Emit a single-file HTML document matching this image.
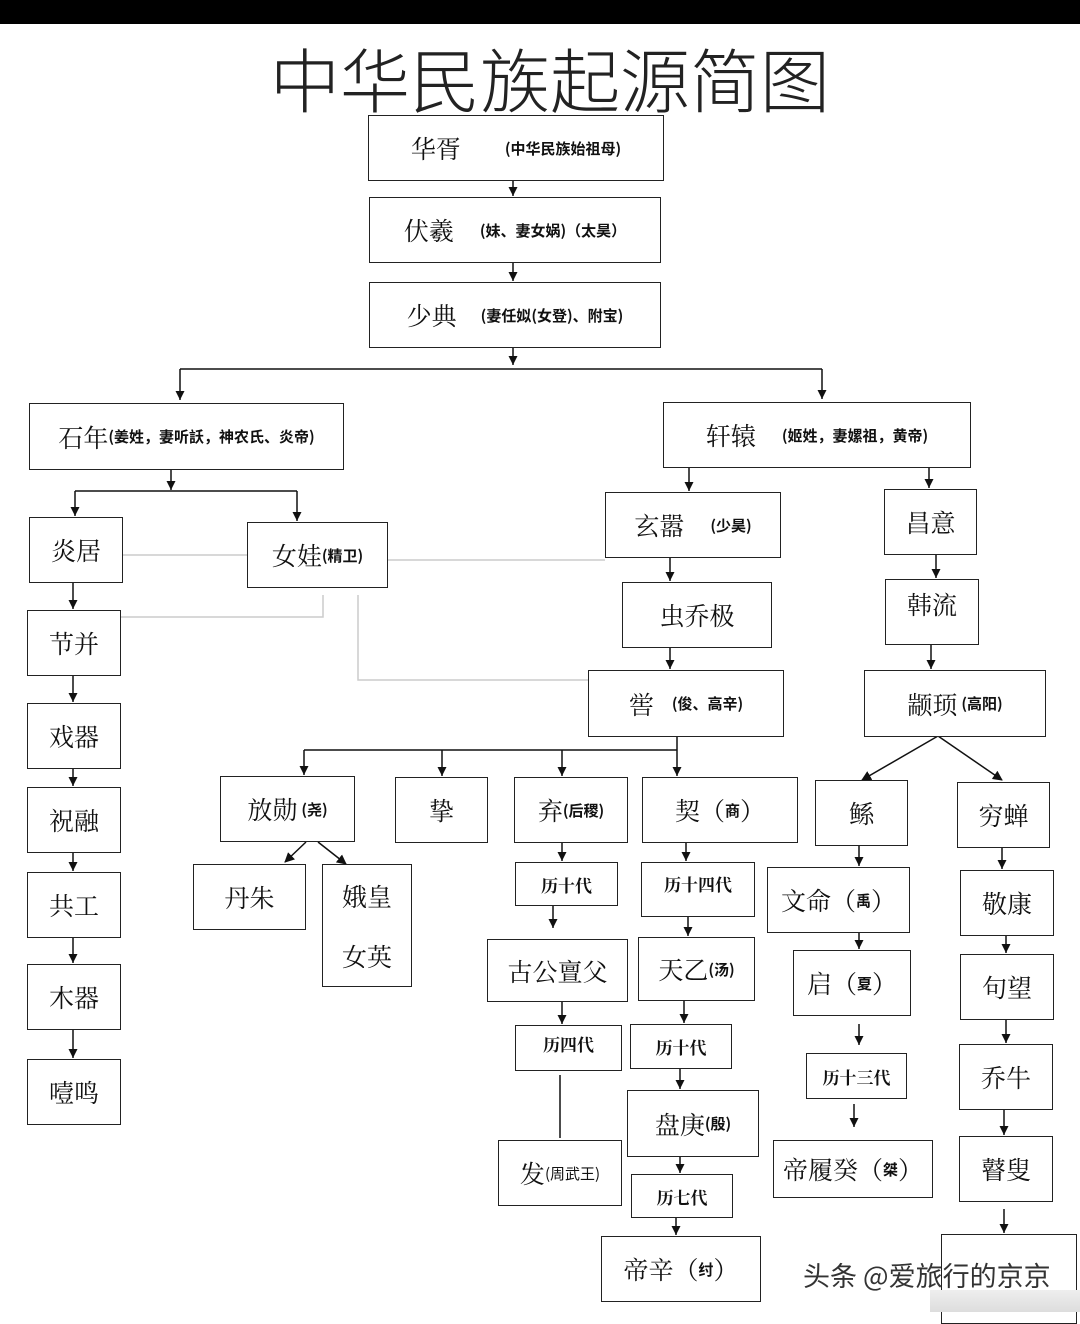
<!DOCTYPE html>
<html><head><meta charset="utf-8"><style>
body{margin:0;width:1080px;height:1312px;background:#fff;position:relative;overflow:hidden;font-family:"Liberation Serif","Noto Serif CJK SC",serif;color:#111}
.bar{position:absolute;left:0;top:0;width:1080px;height:24px;background:#000}
.t{position:absolute;left:240px;top:30px;width:620px;text-align:center;font-family:"Noto Sans CJK SC",sans-serif;font-size:70px;font-weight:300;line-height:96px;color:#222;letter-spacing:0px}
.b{position:absolute;border:1.5px solid #222;box-sizing:border-box;display:flex;align-items:center;justify-content:center;font-size:25px;white-space:nowrap;background:#fff}
.b small{font-family:"Noto Sans CJK SC",sans-serif;font-weight:700;font-size:15px;margin-left:4px}
.s{font-size:17px;font-family:"Noto Serif CJK SC",serif;font-weight:700}
svg{position:absolute;left:0;top:0}
.wm{position:absolute;left:803px;top:1255px;font-family:"Noto Sans CJK SC",sans-serif;font-size:27px;color:#333;z-index:3}
.fade{position:absolute;left:930px;top:1290px;width:150px;height:22px;background:linear-gradient(#eee,#ddd);z-index:2}
</style></head><body>
<div class="bar"></div>
<div class="t">中华民族起源简图</div>
<svg width="1080" height="1312">
<defs><marker id="a" markerWidth="9" markerHeight="9" refX="9" refY="4.5" orient="auto" markerUnits="userSpaceOnUse"><path d="M0,0 L9,4.5 L0,9z" fill="#111"/></marker>
<marker id="d" markerWidth="10" markerHeight="10" refX="9" refY="5" orient="auto" markerUnits="userSpaceOnUse"><path d="M0,0 L10,5 L0,10z" fill="#111"/></marker></defs>
<g stroke="#ccc" stroke-width="1.5" fill="none">
<path d="M122,555 H247"/><path d="M387,560 H605"/><path d="M120,617 H323 V595"/><path d="M358,595 V680 H588"/>
</g>
<g stroke="#111" stroke-width="1.5" fill="none" marker-end="url(#a)">
<path d="M513,180 V196"/><path d="M513,262 V281"/><path d="M513,347 V365"/>
<path d="M180,369 V400"/><path d="M822,369 V399"/>
<path d="M171,469 V490"/><path d="M75,491 V516"/><path d="M297,491 V521"/>
<path d="M73,583 V609"/><path d="M73,676 V702"/><path d="M73,768 V786"/><path d="M73,852 V871"/><path d="M73,937 V963"/><path d="M73,1029 V1058"/>
<path d="M689,467 V491"/><path d="M929,467 V488"/>
<path d="M670,557 V581"/><path d="M936,554 V578"/>
<path d="M670,647 V669"/><path d="M931,644 V669"/>
<path d="M304,750 V775"/><path d="M442,750 V776"/><path d="M562,750 V776"/><path d="M677,750 V776"/>
<path d="M562,842 V861"/><path d="M553,905 V928"/><path d="M562,1001 V1024"/>
<path d="M686,842 V861"/><path d="M688,916 V936"/><path d="M684,1000 V1023"/><path d="M680,1068 V1089"/><path d="M680,1156 V1173"/><path d="M676,1217 V1235"/>
<path d="M859,845 V866"/><path d="M859,932 V949"/><path d="M859,1024 V1045"/><path d="M854,1104 V1127"/>
<path d="M1002,847 V869"/><path d="M1006,935 V953"/><path d="M1006,1019 V1043"/><path d="M1004,1109 V1135"/><path d="M1004,1209 V1233"/>
</g>
<g stroke="#111" stroke-width="1.5" fill="none">
<path d="M180,369 H822"/><path d="M75,491 H297"/><path d="M304,750 H677"/><path d="M677,736 V750"/>
<path d="M560,1075 V1138"/>
</g>
<g stroke="#111" stroke-width="1.5" fill="none" marker-end="url(#d)">
<path d="M938,736 L862,780"/><path d="M938,736 L1002,780"/>
<path d="M306,842 L285,862"/><path d="M318,842 L346,864"/>
</g>
</svg>
<div class="b" style="left:368px;top:115px;width:296px;height:66px">华胥<span style="width:40px"></span><small>(中华民族始祖母)</small></div>
<div class="b" style="left:369px;top:197px;width:292px;height:66px">伏羲<span style="width:22px"></span><small>(妹、妻女娲)（太昊）</small></div>
<div class="b" style="left:369px;top:282px;width:292px;height:66px">少典<span style="width:20px"></span><small>(妻任姒(女登)、附宝)</small></div>
<div class="b" style="left:29px;top:403px;width:315px;height:67px">石年<small style="margin-left:0">(姜姓，妻听訞，神农氏、炎帝)</small></div>
<div class="b" style="left:663px;top:402px;width:308px;height:66px">轩辕<span style="width:22px"></span><small>(姬姓，妻嫘祖，黄帝)</small></div>
<div class="b" style="left:29px;top:517px;width:94px;height:66px">炎居</div>
<div class="b" style="left:247px;top:522px;width:141px;height:66px">女娃<small style="margin-left:0">(精卫)</small></div>
<div class="b" style="left:27px;top:610px;width:94px;height:66px">节并</div>
<div class="b" style="left:27px;top:703px;width:94px;height:66px">戏器</div>
<div class="b" style="left:27px;top:787px;width:94px;height:66px">祝融</div>
<div class="b" style="left:27px;top:872px;width:94px;height:66px">共工</div>
<div class="b" style="left:27px;top:964px;width:94px;height:66px">木器</div>
<div class="b" style="left:27px;top:1059px;width:94px;height:66px">噎鸣</div>
<div class="b" style="left:605px;top:492px;width:176px;height:66px">玄嚣<span style="width:22px"></span><small>(少昊)</small></div>
<div class="b" style="left:884px;top:489px;width:93px;height:66px">昌意</div>
<div class="b" style="left:622px;top:582px;width:150px;height:66px">虫乔极</div>
<div class="b" style="left:885px;top:579px;width:94px;height:66px;align-items:flex-start;padding-top:6px">韩流</div>
<div class="b" style="left:588px;top:670px;width:196px;height:67px">喾<span style="width:14px"></span><small>(俊、高辛)</small></div>
<div class="b" style="left:864px;top:670px;width:182px;height:67px">颛顼<small>(高阳)</small></div>
<div class="b" style="left:220px;top:776px;width:135px;height:66px">放勋<small>(尧)</small></div>
<div class="b" style="left:395px;top:777px;width:93px;height:66px">挚</div>
<div class="b" style="left:514px;top:777px;width:114px;height:66px">弃<small style="margin-left:0">(后稷)</small></div>
<div class="b" style="left:642px;top:777px;width:156px;height:66px">契（<small style="margin:0">商</small>）</div>
<div class="b" style="left:815px;top:780px;width:93px;height:66px">鲧</div>
<div class="b" style="left:957px;top:782px;width:93px;height:66px">穷蝉</div>
<div class="b" style="left:193px;top:864px;width:113px;height:66px">丹朱</div>
<div class="b" style="left:322px;top:864px;width:90px;height:123px;flex-direction:column;gap:24px">娥皇<span>女英</span></div>
<div class="b s" style="left:515px;top:862px;width:103px;height:44px">历十代</div>
<div class="b s" style="left:641px;top:862px;width:114px;height:55px;align-items:flex-start;padding-top:8px">历十四代</div>
<div class="b" style="left:767px;top:867px;width:143px;height:66px">文命（<small style="margin:0">禹</small>）</div>
<div class="b" style="left:960px;top:870px;width:94px;height:66px">敬康</div>
<div class="b" style="left:487px;top:939px;width:141px;height:63px">古公亶父</div>
<div class="b" style="left:638px;top:937px;width:117px;height:64px">天乙<small style="margin:0">(汤)</small></div>
<div class="b" style="left:793px;top:950px;width:118px;height:66px">启（<small style="margin:0">夏</small>）</div>
<div class="b" style="left:960px;top:954px;width:94px;height:66px">句望</div>
<div class="b s" style="left:515px;top:1025px;width:107px;height:46px;align-items:flex-start;padding-top:5px">历四代</div>
<div class="b s" style="left:630px;top:1024px;width:102px;height:45px">历十代</div>
<div class="b" style="left:959px;top:1044px;width:94px;height:66px">乔牛</div>
<div class="b s" style="left:806px;top:1053px;width:101px;height:46px">历十三代</div>
<div class="b" style="left:627px;top:1090px;width:132px;height:67px">盘庚<small style="margin:0">(殷)</small></div>
<div class="b" style="left:498px;top:1140px;width:124px;height:66px">发<small style="margin:0;font-weight:400">(周武王)</small></div>
<div class="b" style="left:773px;top:1140px;width:160px;height:58px">帝履癸（<small style="margin:0">桀</small>）</div>
<div class="b" style="left:959px;top:1136px;width:94px;height:66px">瞽叟</div>
<div class="b s" style="left:631px;top:1174px;width:102px;height:44px">历七代</div>
<div class="b" style="left:601px;top:1236px;width:160px;height:66px">帝辛（<small style="margin:0">纣</small>）</div>
<div class="b" style="left:941px;top:1234px;width:136px;height:90px"></div>
<div class="fade"></div>
<div class="wm">头条 @爱旅行的京京</div>
</body></html>
